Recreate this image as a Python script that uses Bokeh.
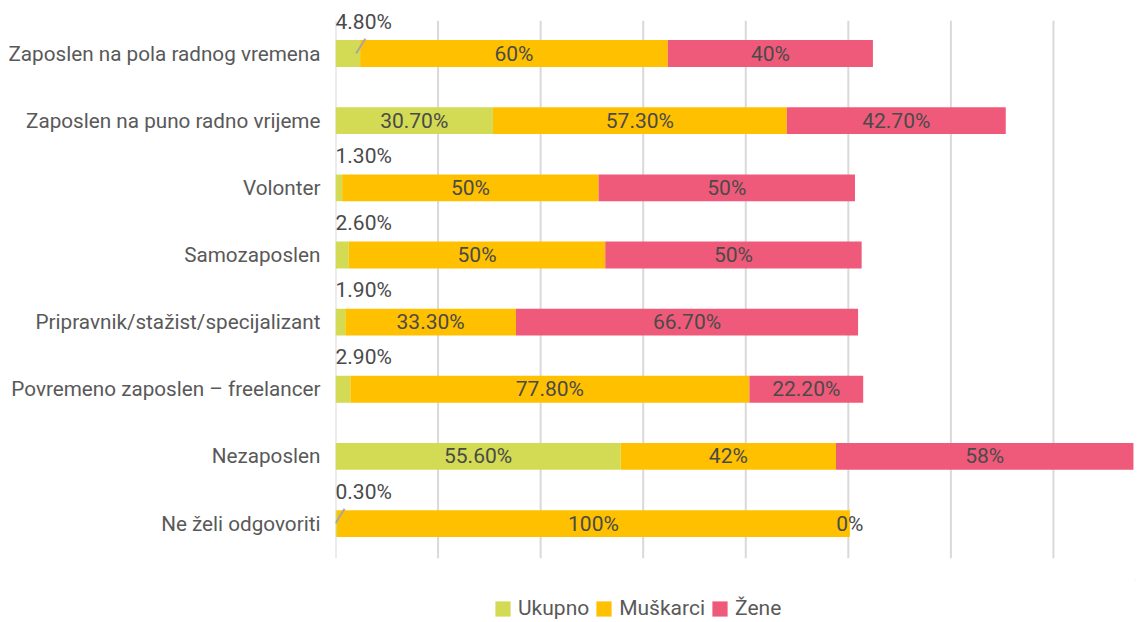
from bokeh.plotting import figure
from bokeh.layouts import column
from bokeh.models import ColumnDataSource, FixedTicker, Legend, LegendItem, Range1d
from bokeh.embed import file_html
from bokeh.resources import INLINE
from bokeh.core.properties import value

categories = [
    "Zaposlen na pola radnog vremena",
    "Zaposlen na puno radno vrijeme",
    "Volonter",
    "Samozaposlen",
    "Pripravnik/stažist/specijalizant",
    "Povremeno zaposlen – freelancer",
    "Nezaposlen",
    "Ne želi odgovoriti",
]
ukupno = [4.8, 30.7, 1.3, 2.6, 1.9, 2.9, 55.6, 0.3]
muskarci = [60, 57.3, 50, 50, 33.3, 77.8, 42, 100]
zene = [40, 42.7, 50, 50, 66.7, 22.2, 58, 0]
ukupno_labels = ["4.80%", "30.70%", "1.30%", "2.60%", "1.90%", "2.90%", "55.60%", "0.30%"]
muskarci_labels = ["60%", "57.30%", "50%", "50%", "33.30%", "77.80%", "42%", "100%"]
zene_labels = ["40%", "42.70%", "50%", "50%", "66.70%", "22.20%", "58%", "0%"]
series_names = ["Ukupno", "Muškarci", "Žene"]
colors = ["#D2DB53", "#FFC000", "#F05A7A"]
leader_rows = ["Zaposlen na pola radnog vremena", "Ne želi odgovoriti"]
grid_ticks = [0, 20, 40, 60, 80, 100, 120, 140]

FONT = "Roboto"
W = 1139
n = len(categories)
ypos = [n - 1 - i for i in range(n)]  # first category on top

src = ColumnDataSource(dict(y=ypos, ukupno=ukupno, muskarci=muskarci, zene=zene))

p = figure(
    width=W, height=580,
    y_range=Range1d(-0.52, n - 1 + 0.79),
    x_range=Range1d(0, 156),
    output_backend="svg", toolbar_location=None,
    min_border_left=335, min_border_right=4, min_border_top=0, min_border_bottom=22,
)
p.outline_line_color = None
p.grid.visible = False
p.xaxis.visible = False
p.yaxis.ticker = FixedTicker(ticks=ypos)
p.yaxis.major_label_overrides = {y: c for y, c in zip(ypos, categories)}
p.yaxis.axis_line_color = None
p.yaxis.major_tick_line_color = None
p.yaxis.minor_tick_line_color = None
p.yaxis.major_tick_out = 0
p.yaxis.major_tick_in = 0
p.yaxis.major_label_standoff = 15
p.yaxis.major_label_text_font = FONT
p.yaxis.major_label_text_font_size = "20.7px"
p.yaxis.major_label_text_color = "#595959"

# vertical gridlines
p.segment(x0=grid_ticks, x1=grid_ticks, y0=[-0.52] * len(grid_ticks),
          y1=[n - 1 + 0.49] * len(grid_ticks), line_color="#D9D9D9", line_width=2)

rs = p.hbar_stack(["ukupno", "muskarci", "zene"], y="y", height=0.4,
                  color=colors, line_color=None, source=src)

# data labels
in_x, in_y, in_t = [], [], []
out_x, out_y, out_t = [], [], []
for i, c in enumerate(categories):
    u, m, z, yy = ukupno[i], muskarci[i], zene[i], ypos[i]
    if u >= 5:
        in_x.append(u / 2); in_y.append(yy); in_t.append(ukupno_labels[i])
    else:
        out_x.append(0); out_y.append(yy); out_t.append(ukupno_labels[i])
    in_x.append(u + m / 2); in_y.append(yy); in_t.append(muskarci_labels[i])
    in_x.append(u + m + z / 2); in_y.append(yy); in_t.append(zene_labels[i])

p.text(x=in_x, y=in_y, text=in_t, text_align="center", text_baseline="middle",
       text_font=value(FONT), text_font_size="21px", text_color="#4A4A4A")
p.text(x=out_x, y=out_y, text=out_t, text_align="left", text_baseline="middle",
       y_offset=-32, text_font=value(FONT), text_font_size="21px", text_color="#4A4A4A")

lx0, lx1, ly0, ly1 = [], [], [], []
for i, c in enumerate(categories):
    if c in leader_rows:
        lx0.append(ukupno[i] * 0.9 - 0.3); lx1.append(ukupno[i] * 0.9 + 1.5)
        ly0.append(ypos[i]); ly1.append(ypos[i] + 0.22)
p.segment(x0=lx0, y0=ly0, x1=lx1, y1=ly1, line_color="#A6A6A6", line_width=2)

# legend strip below the chart
p2 = figure(width=W, height=42, x_range=Range1d(0, 1), y_range=Range1d(0, 1),
            output_backend="svg", toolbar_location=None,
            min_border_left=0, min_border_right=0, min_border_top=0, min_border_bottom=0)
p2.outline_line_color = None
p2.axis.visible = False
p2.grid.visible = False
dummies = [p2.hbar(y=[5], left=[5], right=[6], height=0.5, color=col, line_color=None)
           for col in colors]
legend = Legend(items=[LegendItem(label=nm, renderers=[r]) for nm, r in zip(series_names, dummies)],
                orientation="horizontal", location=(158, 2),
                padding=0, spacing=5, margin=0,
                glyph_width=19, glyph_height=19, label_standoff=6,
                label_text_font=FONT, label_text_font_size="21px",
                label_text_color="#595959", border_line_color=None,
                background_fill_alpha=0)
p2.add_layout(legend, "center")

layout = column(p, p2, spacing=0)
open("out.html", "w").write(file_html(layout, INLINE))
